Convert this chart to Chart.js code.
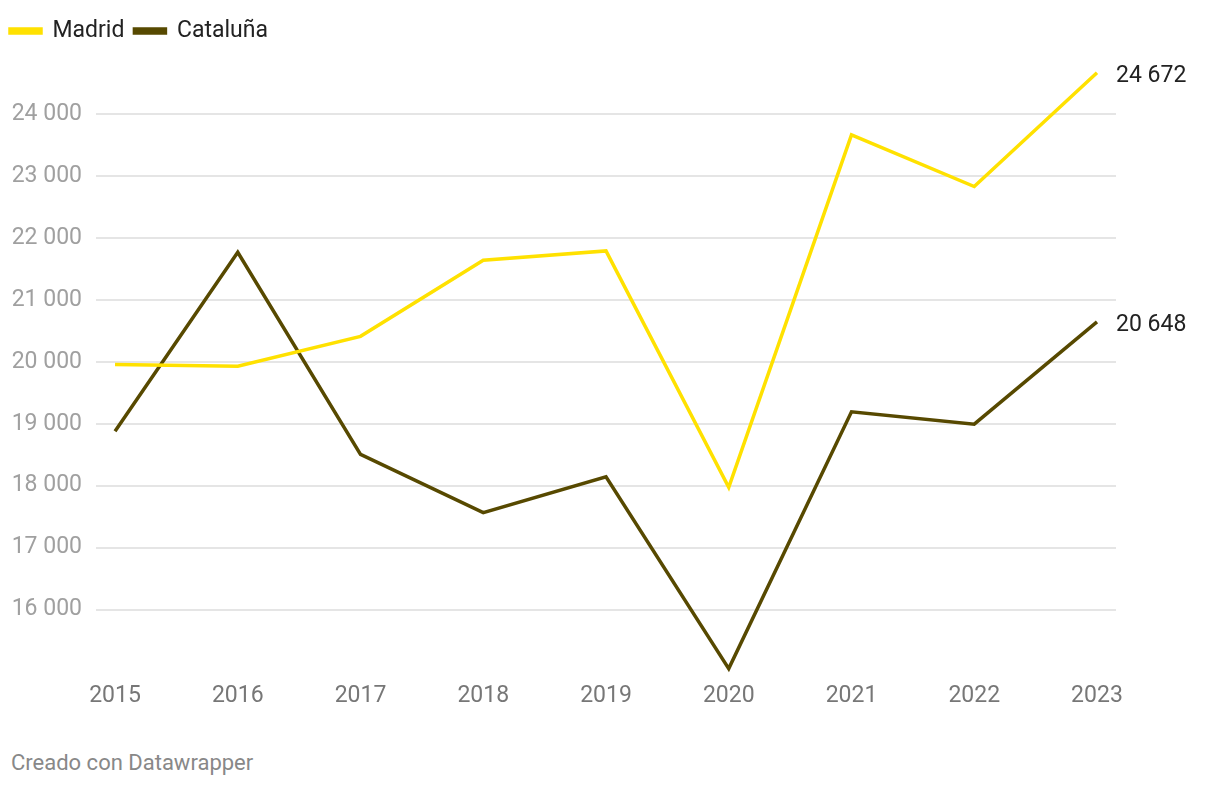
<!DOCTYPE html>
<html lang="es">
<head>
<meta charset="utf-8">
<title>Madrid y Cataluña</title>
<script src="https://cdn.jsdelivr.net/npm/chart.js@4/dist/chart.umd.min.js"></script>
<style>
    body { margin: 0; background: #fff; font-family: Roboto, sans-serif; }
    .contenedor { position: relative; width: 1220px; height: 786px; }
    .grafico { position: absolute; left: 0; top: 0; width: 1220px; height: 734px; }
    .pie { position: absolute; left: 11px; top: 750px; font-size: 22px; line-height: 26px; color: #888; }
</style>
</head>
<body>
<div class="contenedor">
    <div class="grafico"><canvas id="graficoLineas"></canvas></div>
    <div class="pie">Creado con Datawrapper</div>
</div>
<script>
// datos
const anios = [2015, 2016, 2017, 2018, 2019, 2020, 2021, 2022, 2023];
const madrid = [19958, 19931, 20414, 21645, 21794, 17975, 23670, 22834, 24672];
const cataluna = [18880, 21771, 18508, 17566, 18143, 15045, 19195, 18995, 20648];
const ticksY = [16000, 17000, 18000, 19000, 20000, 21000, 22000, 23000, 24000];

const formatoMiles = (v) => String(v).replace(/\B(?=(\d{3})+(?!\d))/g, " ");

// etiqueta con el último valor al final de cada línea
const etiquetasFinales = {
    id: "etiquetasFinales",
    afterDatasetsDraw(chart) {
        const ctx = chart.ctx;
        ctx.save();
        ctx.font = "23px Roboto";
        ctx.fillStyle = "#222";
        ctx.textAlign = "left";
        ctx.textBaseline = "middle";
        chart.data.datasets.forEach((ds, i) => {
            const meta = chart.getDatasetMeta(i);
            const ultimo = meta.data[meta.data.length - 1];
            const valor = ds.data[ds.data.length - 1].y;
            ctx.fillText(formatoMiles(valor), ultimo.x + 19, ultimo.y + 3);
        });
        ctx.restore();
    }
};

const ctx = document.getElementById("graficoLineas").getContext("2d");
new Chart(ctx, {
    type: "line",
    data: {
        datasets: [
            {
                label: "Madrid",
                data: anios.map((a, i) => ({ x: a, y: madrid[i] })),
                borderColor: "#ffe100",
                backgroundColor: "#ffe100",
                borderWidth: 3.5,
                pointRadius: 0,
                clip: false
            },
            {
                label: "Cataluña",
                data: anios.map((a, i) => ({ x: a, y: cataluna[i] })),
                borderColor: "#574900",
                backgroundColor: "#574900",
                borderWidth: 3.5,
                pointRadius: 0,
                clip: false
            }
        ]
    },
    options: {
        responsive: true,
        maintainAspectRatio: false,
        animation: false,
        layout: { padding: { left: 0, right: 104, top: 9.5, bottom: 13 } },
        plugins: {
            tooltip: { enabled: false },
            legend: {
                align: "start",
                labels: {
                    boxWidth: 31,
                    boxHeight: 4,
                    padding: 10,
                    color: "#222",
                    font: { family: "Roboto", size: 23 }
                }
            }
        },
        scales: {
            x: {
                type: "linear",
                min: 2014.845,
                max: 2023.155,
                afterBuildTicks: (axis) => { axis.ticks = anios.map(v => ({ value: v })); },
                grid: { display: false, drawTicks: false },
                border: { display: false },
                ticks: {
                    padding: 11,
                    color: "#777",
                    font: { family: "Roboto", size: 23 },
                    maxRotation: 0,
                    callback: (v) => String(v)
                }
            },
            y: {
                min: 15000,
                max: 25000,
                afterBuildTicks: (axis) => { axis.ticks = ticksY.map(v => ({ value: v })); },
                afterFit: (axis) => { axis.width = 96; },
                grid: { color: "#e5e5e5", lineWidth: 2, drawTicks: false },
                border: { display: false },
                ticks: {
                    padding: 14,
                    color: "#a0a0a0",
                    font: { family: "Roboto", size: 23 },
                    callback: (v) => formatoMiles(v)
                }
            }
        }
    },
    plugins: [etiquetasFinales]
});
</script>
</body>
</html>
